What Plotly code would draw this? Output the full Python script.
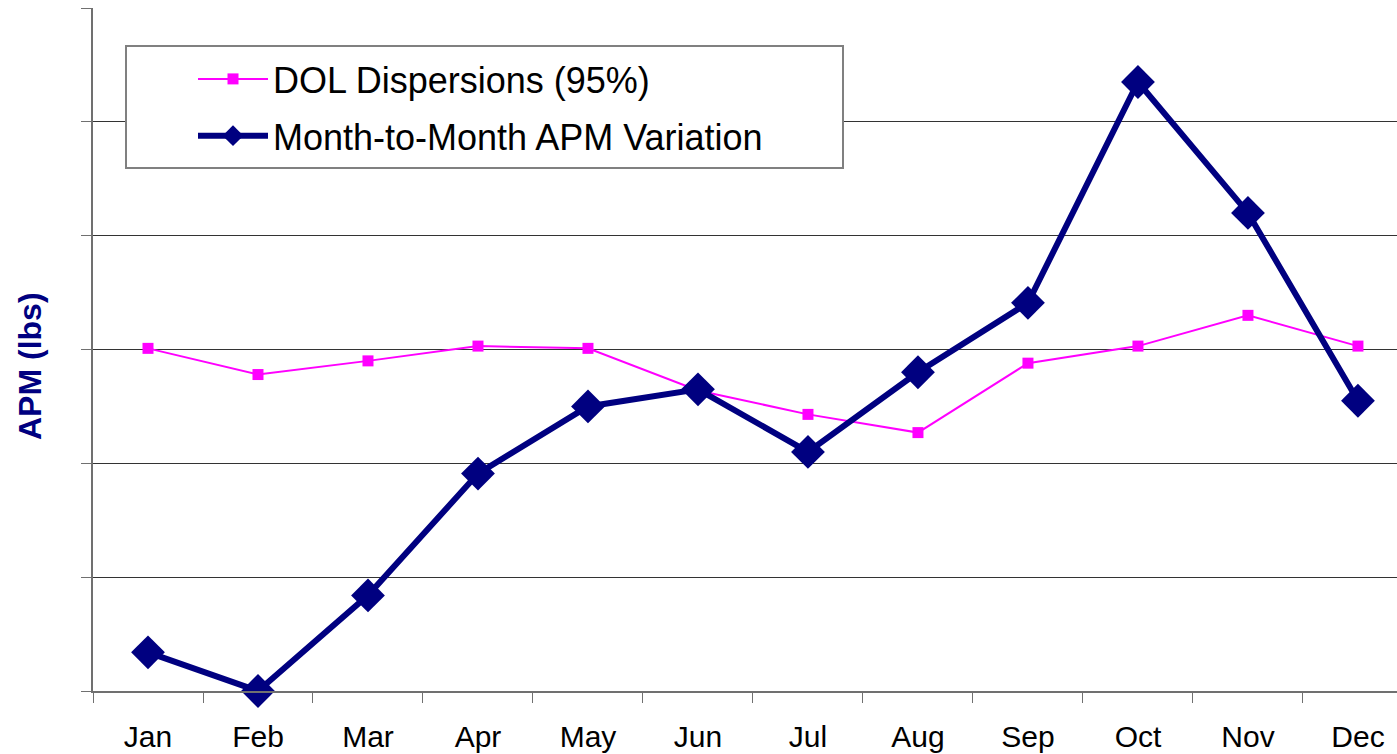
import plotly.graph_objects as go

months = ['Jan', 'Feb', 'Mar', 'Apr', 'May', 'Jun', 'Jul', 'Aug', 'Sep', 'Oct', 'Nov', 'Dec']
dol_dispersions = [3.01, 2.78, 2.90, 3.03, 3.01, 2.64, 2.43, 2.27, 2.88, 3.03, 3.30, 3.03]
apm_variation = [0.34, 0.0, 0.84, 1.91, 2.50, 2.65, 2.10, 2.80, 3.41, 5.35, 4.20, 2.55]
y_ticks = [0, 1, 2, 3, 4, 5, 6]

W, H = 1397, 754
L, T, B = 93, 8, 63
plot_w = W - L
plot_h = H - T - B

fig = go.Figure()

fig.add_trace(go.Scatter(
    x=months, y=dol_dispersions,
    mode='lines+markers',
    name='DOL Dispersions (95%)',
    legendgroup='dol',
    line=dict(color='#ff00ff', width=2),
    marker=dict(symbol='square', size=11, color='#ff00ff'),
    cliponaxis=False
))

fig.add_trace(go.Scatter(
    x=months, y=apm_variation,
    mode='lines+markers',
    name='Month-to-Month APM Variation',
    legendgroup='apm',
    line=dict(color='#000080', width=6),
    marker=dict(symbol='diamond', size=26, color='#000080'),
    cliponaxis=False
))

# pixel -> paper
def px_x(x):
    return (x - L) / plot_w

def px_y(y):
    return (T + plot_h - y) / plot_h

# caixa da legenda
fig.add_shape(
    type='rect', xref='paper', yref='paper',
    x0=px_x(126), x1=px_x(843),
    y0=px_y(168), y1=px_y(46),
    line=dict(color='#808080', width=2),
    fillcolor='white', layer='above'
)

# título do eixo y (um pouco abaixo do centro, como no original)
fig.add_annotation(
    text='<b>APM (lbs)</b>', textangle=-90,
    xref='paper', yref='paper',
    x=px_x(30), y=px_y(366),
    xanchor='center', yanchor='middle',
    showarrow=False,
    font=dict(size=32, color='#000080')
)

fig.update_layout(
    width=W, height=H,
    margin=dict(l=L, r=0, t=T, b=B),
    paper_bgcolor='white',
    plot_bgcolor='white',
    font=dict(family='Liberation Sans, Arial, sans-serif', color='black'),
    showlegend=True,
    legend=dict(
        x=px_x(193), y=px_y(49),
        xanchor='left', yanchor='top',
        bgcolor='rgba(0,0,0,0)',
        borderwidth=0,
        font=dict(size=36, color='black'),
        itemwidth=70,
        tracegroupgap=7,
        traceorder='grouped'
    ),
    xaxis=dict(
        type='category',
        range=[-0.5, 11.355],
        showline=True, linecolor='#707070', linewidth=2,
        ticks='outside', tickson='boundaries', ticklen=10,
        tickcolor='#707070', tickwidth=1,
        showgrid=False,
        tickfont=dict(size=30, color='black'),
        ticklabelstandoff=18,
        automargin=False,
        zeroline=False
    ),
    yaxis=dict(
        range=[0, 6],
        tickvals=y_ticks,
        showticklabels=False,
        showline=True, linecolor='#707070', linewidth=2,
        ticks='outside', ticklen=10, tickcolor='#707070', tickwidth=1,
        showgrid=True, gridcolor='#333333', gridwidth=1,
        automargin=False,
        zeroline=False
    )
)

# tira a margem padrão do body para a figura ocupar a janela toda
fig.write_html("out.html", config={'displayModeBar': False},
               post_script="document.body.style.margin='0';")
